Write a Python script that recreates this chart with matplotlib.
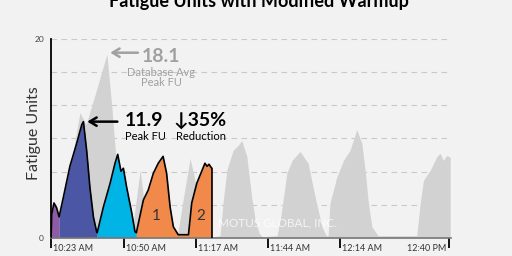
import numpy as np
import matplotlib
matplotlib.use('Agg')
import matplotlib.pyplot as plt
from matplotlib.transforms import blended_transform_factory


# database average FU (minutes after 10:23, fatigue units)
db_min  = [0, 0.7, 2.6, 7.0, 10.7, 13.0, 16.3, 20.7, 22.6, 24.4, 26.3, 28.5, 30.0, 33.0, 35.6, 36.7,
           47.0, 48.9, 51.5, 53.7, 56.3, 58.1, 62.6, 63.7, 65.1, 67.4, 69.3, 70.6, 72.5, 74.3, 75.6,
           77.0, 78.1, 83.7, 85.2, 87.3, 89.3, 92.2, 93.7, 95.2, 97.8, 100.3, 101.9, 102.6, 103.3,
           105.8, 108.3, 110.7, 111.9, 113.2, 115.1, 116.3, 117.5, 118.8, 121.1, 135.4, 136.7, 137.9,
           140.4, 142.9, 144.1, 145.2, 146.6, 147.8]
db_fu   = [0, 2.3, 1.6, 6.8, 12.6, 11.4, 14.4, 18.5, 12.9, 6.8, 3.3, 1.0, 0.6, 6.8, 1.1, 0.4,
           0.5, 3.8, 8.0, 5.3, 1.3, 0.0, 0.2, 3.5, 6.8, 8.8, 9.3, 9.8, 8.2, 4.1, 1.8,
           0.5, 0.1, 0.2, 2.3, 6.5, 7.8, 8.7, 8.1, 7.5, 4.1, 1.1, 0.2, 0.2, 3.5,
           6.1, 7.8, 8.8, 9.8, 10.9, 9.5, 6.8, 3.5, 1.1, 0.2, 0.2, 3.5, 5.8,
           6.8, 8.2, 8.5, 7.8, 8.3, 8.1]

# modified warmup FU
mod_min = [0, 0.3, 1.1, 2.1, 3.0, 4.6, 7.0, 9.5, 11.4, 12.0, 13.2, 14.4, 15.7, 16.9, 17.1,
           19.4, 21.9, 23.7, 24.7, 25.9, 26.8, 28.0, 29.9, 31.1, 31.6, 34.2, 36.0, 37.9, 39.7,
           41.5, 42.8, 44.1, 45.3, 47.1, 50.9, 52.1, 54.0, 55.8, 57.0, 57.8, 58.5, 59.5, 59.6, 59.6]
mod_fu  = [0, 2.4, 3.5, 3.0, 2.1, 4.1, 7.2, 9.5, 11.4, 11.7, 8.8, 5.1, 2.1, 0.6, 0.5,
           3.1, 5.5, 7.5, 8.4, 6.7, 7.0, 5.1, 2.5, 0.6, 0.5, 3.8, 4.8, 6.5, 7.5,
           8.2, 6.5, 3.1, 1.1, 0.3, 0.3, 3.5, 5.5, 6.7, 7.5, 7.2, 7.4, 7.0, 7.0, 0.0]

# phase boundaries and colours
phase_edges  = [0, 3.0, 17.1, 31.6, 59.6]
phase_colors = ['#8E5BA6', '#4B56A4', '#00B5E6', '#F0894A']

tick_pos    = [0, 27, 53.7, 80.4, 107, 147.4]
tick_labels = ['10:23 AM', '10:50 AM', '11:17 AM', '11:44 AM', '12:14 AM', '12:40 PM']

db_peak  = 18.1
mod_peak = 11.9
reduction = 35


plt.rcParams['font.family'] = ['Lato', 'DejaVu Sans']
bg = '#F2F2F2'

fig = plt.figure(figsize=(5.12, 2.56), dpi=100, facecolor=bg)
ax  = fig.add_axes([51/512, 18.3/256, 400/512, 198.4/256], facecolor=bg)

for g in np.arange(1, 7) * 20 / 6:
    ax.axhline(g, color='#C9C9C9', lw=0.8, dashes=(5, 4), zorder=0)

ax.fill_between(db_min, db_fu, color='#D2D2D2', lw=0, zorder=1)

x = np.array(mod_min)
y = np.array(mod_fu)
for lo, hi, c in zip(phase_edges[:-1], phase_edges[1:], phase_colors):
    m = (x >= lo) & (x <= hi)
    ax.fill_between(x[m], y[m], color=c, lw=0, zorder=2)
ax.plot(x, y, color='black', lw=1.2, zorder=3)

ax.text(38.9, 2.2, '1', fontsize=11, color='#333333', ha='center', va='center', zorder=4)
ax.text(55.6, 2.2, '2', fontsize=11, color='#333333', ha='center', va='center', zorder=4)
ax.text(83.7, 1.5, 'MOTUS GLOBAL, INC.', fontsize=8.5, color='white', alpha=0.75,
        ha='center', va='center', zorder=4)

# database annotation
ax.annotate('', xy=(20.9, 18.65), xytext=(33.2, 18.65),
            arrowprops=dict(arrowstyle='->,head_length=0.5,head_width=0.3', color='#A0A0A0', lw=1.8))
ax.text(33.6, 18.3, f'{db_peak}', fontsize=14, fontweight='bold', color='#A0A0A0', va='center')
ax.text(40.8, 16.7, 'Database Avg', fontsize=8, color='#A0A0A0', ha='center', va='center')
ax.text(40.8, 15.6, 'Peak FU', fontsize=8, color='#A0A0A0', ha='center', va='center')

# modified annotation
ax.annotate('', xy=(12.4, 11.7), xytext=(25.6, 11.7),
            arrowprops=dict(arrowstyle='->,head_length=0.5,head_width=0.3', color='black', lw=1.8))
ax.text(27.4, 11.8, f'{mod_peak}', fontsize=14, fontweight='bold', color='black', va='center')
ax.text(45.2, 11.8, f'\u2193{reduction}%', fontsize=14, fontweight='bold', color='black', va='center')
ax.text(34.8, 10.25, 'Peak FU', fontsize=8, color='black', ha='center', va='center')
ax.text(55.6, 10.25, 'Reduction', fontsize=8, color='black', ha='center', va='center')

ax.set_xlim(0, 148.1)
ax.set_ylim(0, 20)

ax.set_yticks([0, 20])
ax.set_yticklabels(['0', '20'], fontsize=6, color='#444444')
ax.tick_params(axis='y', length=0, pad=5)

ax.set_xticks(tick_pos)
ax.set_xticklabels([])
ax.tick_params(axis='x', direction='out', length=7, width=1.3, color='black')
tr = blended_transform_factory(ax.transData, ax.transAxes)
for i, (p, lab) in enumerate(zip(tick_pos, tick_labels)):
    if i == len(tick_pos) - 1:
        ax.text(p - 1.0, -0.03, lab, transform=tr, fontsize=6.5, color='#333333', ha='right', va='top')
    else:
        ax.text(p + 0.8, -0.03, lab, transform=tr, fontsize=6.5, color='#333333', ha='left', va='top')

ax.set_ylabel('Fatigue Units', fontsize=11.5, color='#333333')
ax.yaxis.set_label_coords(-0.0425, 0.528)
ax.yaxis.label.set_va('center')

for s in ['top', 'right']:
    ax.spines[s].set_visible(False)
ax.spines['left'].set_color('black')
ax.spines['left'].set_linewidth(1.3)
ax.spines['bottom'].set_color('#777777')
ax.spines['bottom'].set_linewidth(1.2)

fig.text(0.505, 1 - 7/256, 'Fatigue Units with Modified Warmup', fontsize=13,
         fontweight='bold', ha='center', va='baseline', color='black')

fig.savefig('out.png', dpi=100, facecolor=bg)
